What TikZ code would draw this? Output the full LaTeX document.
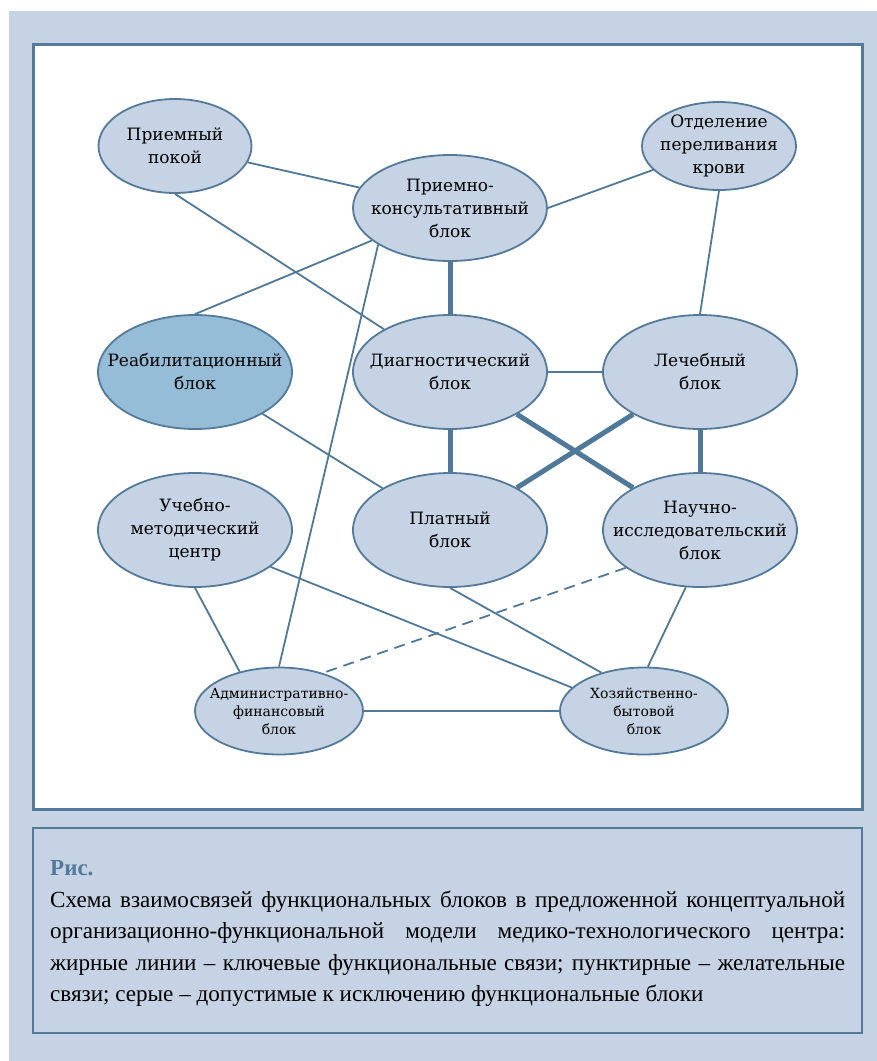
\documentclass[tikz,border=0pt]{standalone}
\usepackage{fontspec}
\setmainfont{DejaVu Serif}
\newfontfamily\capfont{Liberation Serif}
\usetikzlibrary{shapes.geometric, positioning}

\definecolor{panelblue}{RGB}{197,211,228}
\definecolor{frameblue}{RGB}{84,122,155}
\definecolor{lineblue}{RGB}{79,121,154}
\definecolor{reabblue}{RGB}{150,189,216}

\begin{document}
\begin{tikzpicture}[x=1pt, y=-1pt,
    blk/.style={ellipse, draw=frameblue, line width=1.8pt, fill=panelblue,
        inner sep=0pt, minimum width=194pt, minimum height=114pt},
    smallblk/.style={blk, minimum width=168pt, minimum height=87pt},
    lbl/.style={align=center, font=\fontsize{17}{23}\selectfont, text=black},
    smalllbl/.style={lbl, font=\fontsize{14}{18}\selectfont},
    link/.style={draw=lineblue, line width=1.8pt},
    keylink/.style={draw=lineblue, line width=5pt},
    wishlink/.style={link, dash pattern=on 11pt off 7pt}]
    \useasboundingbox (0,0) rectangle (877,1061);

    % Background and frames
    \fill[panelblue] (9,11) rectangle (877,1061);
    \draw[frameblue, line width=3pt, fill=white] (33,44) rectangle (862,809);
    \draw[frameblue, line width=1.2pt, fill=panelblue] (33,828) rectangle (862,1033);

    % Top row
    \node[blk, minimum width=153pt, minimum height=94pt,
        label={[lbl]center:{Приемный\\покой}}] (pk) at (175,146) {};
    \node[blk, minimum height=106pt,
        label={[lbl]center:{Приемно-\\консультативный\\блок}}] (pkb) at (450,208) {};
    \node[blk, minimum width=154pt, minimum height=88pt,
        label={[lbl]center:{Отделение\\переливания\\крови}}] (opk) at (719,146) {};

    % Middle row
    \node[blk, fill=reabblue,
        label={[lbl]center:{Реабилитационный\\блок}}] (reab) at (195,372) {};
    \node[blk, label={[lbl]center:{Диагностический\\блок}}] (diag) at (450,372) {};
    \node[blk, label={[lbl]center:{Лечебный\\блок}}] (lech) at (700,372) {};

    % Lower row
    \node[blk, label={[lbl]center:{Учебно-\\методический\\центр}}] (uch) at (195,530) {};
    \node[blk, label={[lbl]center:{Платный\\блок}}] (plat) at (450,530) {};
    \node[blk, label={[lbl]center:{Научно-\\исследовательский\\блок}}] (nauch) at (700,530) {};

    % Bottom row
    \node[smallblk, label={[smalllbl]center:{Административно-\\финансовый\\блок}}] (adm) at (279,711) {};
    \node[smallblk, label={[smalllbl]center:{Хозяйственно-\\бытовой\\блок}}] (hoz) at (644,711) {};

    % Thin links
    \draw[link] (pk) -- (pkb);
    \draw[link] (pk.south) -- (diag);
    \draw[link] (pkb.east) -- (opk);
    \draw[link] (opk.south) -- (lech.north);
    \draw[link] (pkb) -- (reab.north);
    \draw[link] (pkb.207) -- (adm.north);
    \draw[link] (reab) -- (plat);
    \draw[link] (diag) -- (lech);
    \draw[link] (uch.south) -- (adm.135);
    \draw[link] (uch.-26) -- (hoz.162);
    \draw[link] (plat.south) -- (hoz.138);
    \draw[link] (nauch.256) -- (hoz.85);
    \draw[link] (adm) -- (hoz);

    % Key links
    \draw[keylink] (pkb) -- (diag);
    \draw[keylink] (diag) -- (plat);
    \draw[keylink] (diag) -- (nauch);
    \draw[keylink] (lech) -- (plat);
    \draw[keylink] (lech) -- (nauch);

    % Desired link
    \draw[wishlink] (nauch.207) -- (adm.41);

    % Caption
    \node[anchor=base west, inner sep=0pt, text=frameblue,
        font=\capfont\bfseries\fontsize{23}{30}\selectfont] (fig) at (50,875) {Рис.};
    \node[anchor=base west, inner sep=0pt, text width=795pt, align=justify,
        font=\capfont\fontsize{23.1}{31.6}\selectfont] (capt) at (50,907)
        {Схема взаимосвязей функциональных блоков в предложенной концептуальной\linebreak
        организационно-функциональной модели медико-технологического центра:\linebreak
        жирные линии – ключевые функциональные связи; пунктирные – желательные\linebreak
        связи; серые – допустимые к исключению функциональные блоки};
\end{tikzpicture}
\end{document}
